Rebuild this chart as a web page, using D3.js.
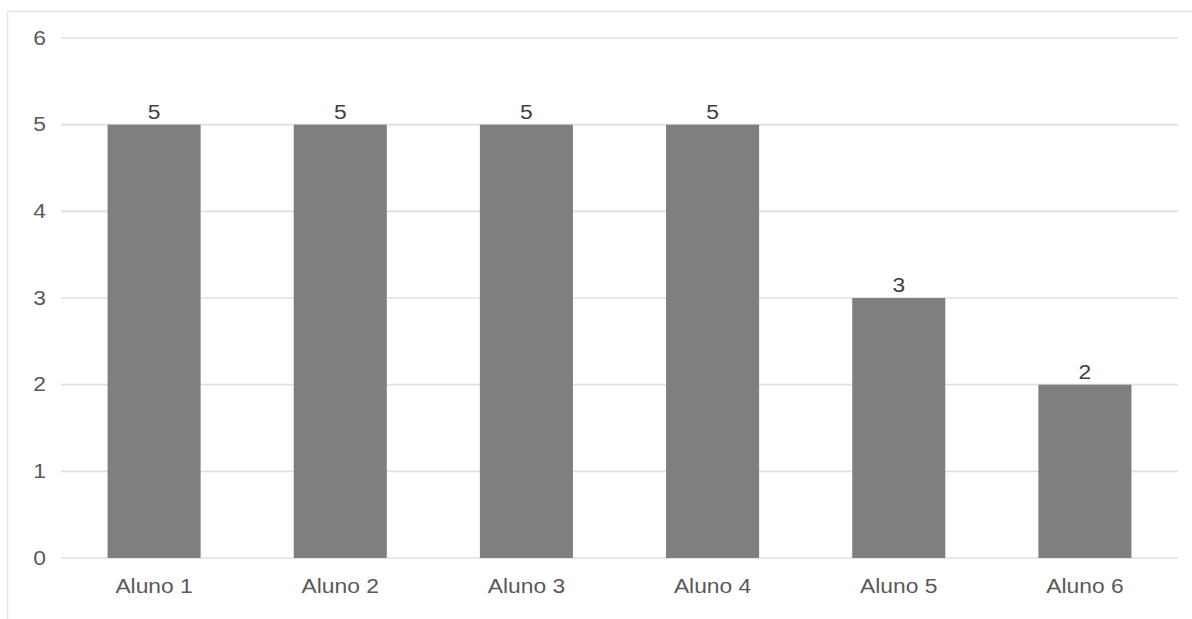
<!DOCTYPE html>
<html>
<head>
<meta charset="utf-8">
<script src="https://cdn.jsdelivr.net/npm/d3@7"></script>
<style>
  html, body { margin: 0; padding: 0; background: #fff; }
  svg { display: block; }
  text { font-family: "Liberation Sans", Arial, sans-serif; }
</style>
</head>
<body>
<svg id="chart" width="1192" height="619"></svg>
<script>
const categories = ["Aluno 1", "Aluno 2", "Aluno 3", "Aluno 4", "Aluno 5", "Aluno 6"];
const values = [5, 5, 5, 5, 3, 2];
const yTicks = [0, 1, 2, 3, 4, 5, 6];

const svg = d3.select("#chart");
const margin = { left: 61, right: 14, top: 38, bottom: 61 };
const W = 1192, H = 619;
const FONT = 19.5;
const STRETCH = "scale(1.17,1)";

// outer frame (top and left edges of the card)
svg.append("line").attr("x1", 7.5).attr("x2", W).attr("y1", 11.5).attr("y2", 11.5)
  .attr("stroke", "#e6e6e6").attr("stroke-width", 1.5);
svg.append("line").attr("x1", 7.5).attr("x2", 7.5).attr("y1", 11.5).attr("y2", H)
  .attr("stroke", "#e6e6e6").attr("stroke-width", 1.5);

const x = d3.scaleBand().domain(categories)
  .range([margin.left, W - margin.right]).paddingInner(0.5).paddingOuter(0.25);
const y = d3.scaleLinear().domain([0, 6]).range([H - margin.bottom, margin.top]);

// horizontal gridlines
svg.append("g").selectAll("line").data(yTicks).join("line")
  .attr("x1", margin.left).attr("x2", W - margin.right)
  .attr("y1", d => y(d)).attr("y2", d => y(d))
  .attr("stroke", "#e0e0e0").attr("stroke-width", 1.6);

// y axis labels
const yAxis = d3.axisLeft(y).tickValues(yTicks).tickFormat(d3.format("d")).tickSize(0).tickPadding(0);
svg.append("g").attr("transform", `translate(${46},0)`).call(yAxis)
  .call(g => g.select(".domain").remove())
  .selectAll("text")
  .attr("font-size", FONT).attr("fill", "#595959")
  .attr("font-family", "Liberation Sans, Arial, sans-serif")
  .attr("transform", STRETCH);

// bars
svg.append("g").selectAll("rect").data(values).join("rect")
  .attr("x", (d, i) => x(categories[i]))
  .attr("width", x.bandwidth())
  .attr("y", d => y(d))
  .attr("height", d => y(0) - y(d))
  .attr("fill", "#7f7f7f");

// value labels
svg.append("g").selectAll("text").data(values).join("text")
  .attr("transform", (d, i) => `translate(${x(categories[i]) + x.bandwidth() / 2},${y(d) - 6}) ${STRETCH}`)
  .attr("text-anchor", "middle")
  .attr("font-size", FONT).attr("fill", "#404040")
  .text(d => d);

// x axis labels
const xAxis = d3.axisBottom(x).tickSize(0).tickPadding(0);
svg.append("g").attr("transform", `translate(0,${y(0) + 35})`).call(xAxis)
  .call(g => g.select(".domain").remove())
  .selectAll("text")
  .attr("dy", null)
  .attr("font-size", FONT).attr("fill", "#595959")
  .attr("font-family", "Liberation Sans, Arial, sans-serif")
  .attr("transform", STRETCH);
</script>
</body>
</html>
